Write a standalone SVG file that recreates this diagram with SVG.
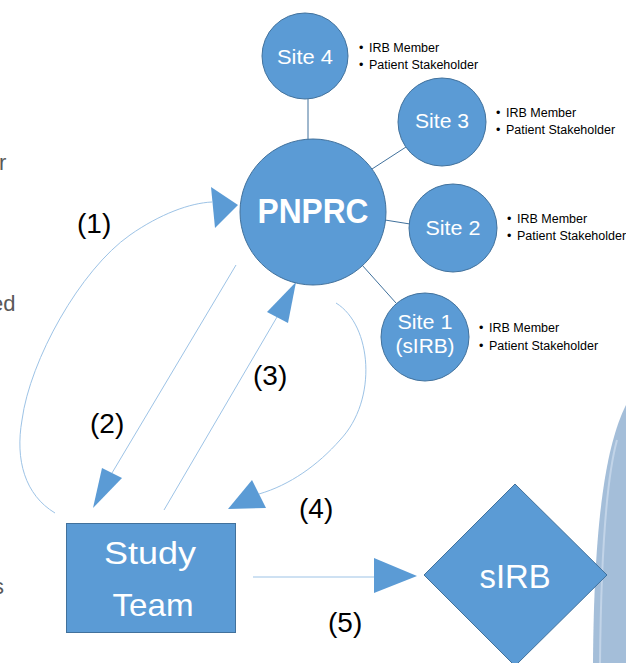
<svg xmlns="http://www.w3.org/2000/svg" width="626" height="663" viewBox="0 0 626 663">
<style>
.node{fill:#5b9bd5;stroke:#41719c;stroke-width:1}
.lbl{fill:#ffffff;font-family:"Liberation Sans",Arial,sans-serif;text-anchor:middle}
.bul{fill:#000000;font-family:"Liberation Sans",Arial,sans-serif;font-size:12.5px}
.num{fill:#000000;font-family:"Liberation Sans",Arial,sans-serif;font-size:28px}
.frag{fill:#595959;font-family:"Liberation Sans",Arial,sans-serif;font-size:22px}
.spoke{stroke:#41719c;stroke-width:1;fill:none}
.flow{stroke:#9dc3e6;stroke-width:1;fill:none}
.head{fill:#5b9bd5;stroke:none}
</style>
<rect width="626" height="663" fill="#ffffff"/>
<g id="background">
<path d="M 626 405 C 606 445 594 520 593 663 L 626 663 Z" fill="#a4bed9"/>
<path d="M 617 440 C 606 480 601 560 600 663" fill="none" stroke="#c2d4e8" stroke-width="2"/>
</g>
<g id="fragments">
<text class="frag" x="-1" y="170">r</text>
<text class="frag" x="-9" y="311">ed</text>
<text class="frag" x="-7" y="594">s</text>
</g>
<g id="connectors">
<line class="spoke" x1="308" y1="99" x2="308" y2="140"/>
<line class="spoke" x1="372" y1="169" x2="406" y2="147"/>
<line class="spoke" x1="385" y1="220" x2="410" y2="224"/>
<line class="spoke" x1="362" y1="265" x2="396" y2="303"/>
<path class="flow" d="M 55 513 C 25 495 15 460 22 420 C 30 360 80 270 130 235 C 160 214 190 203 212 202"/>
<polygon class="head" points="238,205 211,187 215,228"/>
<line class="flow" x1="236" y1="265" x2="112" y2="473"/>
<polygon class="head" points="93,508 102,468 122,478"/>
<line class="flow" x1="164" y1="510" x2="277" y2="317"/>
<polygon class="head" points="296,282 267,312 288,323"/>
<path class="flow" d="M 336 303 C 372 325 378 400 340 440 C 318 465 290 485 259 494"/>
<polygon class="head" points="228,509 252,480 266,508"/>
<line class="flow" x1="253" y1="577" x2="374" y2="577"/>
<polygon class="head" points="417,576 374,558 374,593"/>
</g>
<g id="labels">
<text class="num" x="77" y="233">(1)</text>
<text class="num" x="90" y="433">(2)</text>
<text class="num" x="253" y="385">(3)</text>
<text class="num" x="299" y="518">(4)</text>
<text class="num" x="328" y="632">(5)</text>
</g>
<g id="pnprc">
<circle class="node" cx="313" cy="212" r="73"/>
<text class="lbl" x="313" y="223" font-size="35" font-weight="bold" textLength="111" lengthAdjust="spacingAndGlyphs">PNPRC</text>
</g>
<g id="site4">
<circle class="node" cx="305" cy="56" r="43"/>
<text class="lbl" x="305" y="64" font-size="21" textLength="56" lengthAdjust="spacingAndGlyphs">Site 4</text>
<text class="bul" x="359" y="52">•</text><text class="bul" x="369" y="52">IRB Member</text>
<text class="bul" x="359" y="69">•</text><text class="bul" x="369" y="69">Patient Stakeholder</text>
</g>
<g id="site3">
<circle class="node" cx="442" cy="122" r="44"/>
<text class="lbl" x="442" y="128" font-size="21" textLength="54" lengthAdjust="spacingAndGlyphs">Site 3</text>
<text class="bul" x="496" y="117">•</text><text class="bul" x="506" y="117">IRB Member</text>
<text class="bul" x="496" y="134">•</text><text class="bul" x="506" y="134">Patient Stakeholder</text>
</g>
<g id="site2">
<circle class="node" cx="453" cy="228" r="44"/>
<text class="lbl" x="453" y="235" font-size="21" textLength="55" lengthAdjust="spacingAndGlyphs">Site 2</text>
<text class="bul" x="507" y="223">•</text><text class="bul" x="517" y="223">IRB Member</text>
<text class="bul" x="507" y="240">•</text><text class="bul" x="517" y="240">Patient Stakeholder</text>
</g>
<g id="site1">
<circle class="node" cx="425" cy="337" r="44"/>
<text class="lbl" x="425" y="329" font-size="21" textLength="55" lengthAdjust="spacingAndGlyphs">Site 1</text>
<text class="lbl" x="425" y="353" font-size="21" textLength="59" lengthAdjust="spacingAndGlyphs">(sIRB)</text>
<text class="bul" x="479" y="332">•</text><text class="bul" x="489" y="332">IRB Member</text>
<text class="bul" x="479" y="350">•</text><text class="bul" x="489" y="350">Patient Stakeholder</text>
</g>
<g id="studyteam">
<rect class="node" x="66.5" y="523.5" width="169" height="109"/>
<text class="lbl" x="150" y="564" font-size="32" textLength="92" lengthAdjust="spacingAndGlyphs">Study</text>
<text class="lbl" x="153" y="616" font-size="32" textLength="81" lengthAdjust="spacingAndGlyphs">Team</text>
</g>
<g id="sirb">
<polygon class="node" points="424,575 515,484 607,575 515,666"/>
<text class="lbl" x="515" y="588" font-size="33" textLength="71" lengthAdjust="spacingAndGlyphs">sIRB</text>
</g>
</svg>
